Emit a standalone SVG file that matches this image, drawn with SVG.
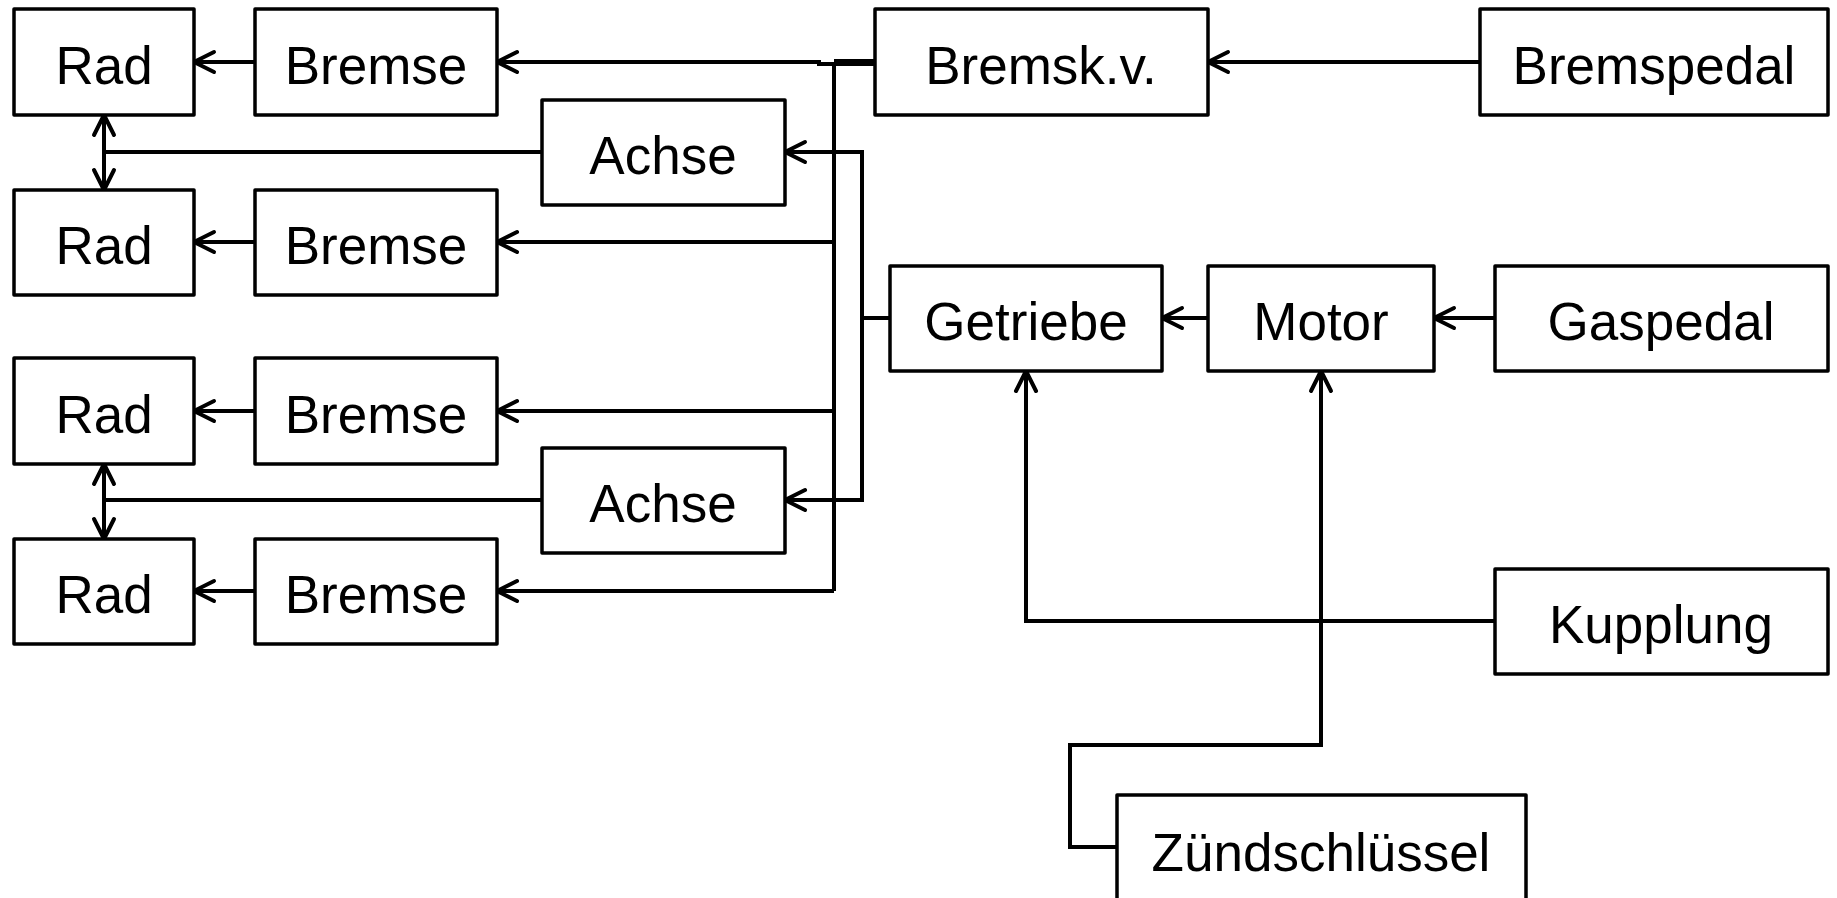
<svg xmlns="http://www.w3.org/2000/svg" width="1837" height="898" viewBox="0 0 1837 898">
  <style>
    .box rect { fill: #fff; stroke: #000; stroke-width: 3.5; stroke-linejoin: round; }
    .box text { font-family: "Liberation Sans", "Open Sans", sans-serif; font-size: 53px; fill: #000; text-anchor: middle; }
    .wire { fill: none; stroke: #000; stroke-width: 4; stroke-linejoin: miter; }
    .arr { marker-end: url(#ah); }
  </style>
  <defs>
    <!-- open chevron arrowhead -->
    <marker id="ah" viewBox="-23 -13 26 26" refX="0" refY="0" markerWidth="26" markerHeight="26" markerUnits="userSpaceOnUse" orient="auto">
      <path d="M-20,-10 L0,0 L-20,10" fill="none" stroke="#000" stroke-width="4" stroke-linecap="round" stroke-linejoin="round"/>
    </marker>
  </defs>
  <rect width="1837" height="898" fill="#fff"/>

  <!-- connectors -->
  <g id="connectors">
    <!-- brakes to wheels -->
    <path class="wire arr" d="M255,62 H194"/>
    <path class="wire arr" d="M255,242 H194"/>
    <path class="wire arr" d="M255,411 H194"/>
    <path class="wire arr" d="M255,591 H194"/>
    <!-- brake pedal to brake force distributor -->
    <path class="wire arr" d="M1480,62 H1208"/>
    <!-- distributor bus to the four brakes -->
    <path class="wire" d="M875,61 H834"/>
    <path class="wire" d="M875,64 H834 V591"/>
    <path class="wire arr" d="M834,64 H819 V62 H497"/>
    <path class="wire arr" d="M834,242 H497"/>
    <path class="wire arr" d="M834,411 H497"/>
    <path class="wire arr" d="M834,591 H497"/>
    <!-- gearbox to axles -->
    <path class="wire arr" d="M890,318 H862 V152 H785"/>
    <path class="wire arr" d="M862,318 V500 H785"/>
    <!-- axles to wheel pairs -->
    <path class="wire" d="M542,152 H104"/>
    <path class="wire arr" d="M104,152 V115"/>
    <path class="wire arr" d="M104,152 V190"/>
    <path class="wire" d="M542,500 H104"/>
    <path class="wire arr" d="M104,500 V464"/>
    <path class="wire arr" d="M104,500 V539"/>
    <!-- drivetrain -->
    <path class="wire arr" d="M1208,318 H1162"/>
    <path class="wire arr" d="M1495,318 H1434"/>
    <path class="wire arr" d="M1495,621 H1026 V371"/>
    <path class="wire arr" d="M1117,847 H1070 V745 H1321 V371"/>
  </g>

  <!-- nodes -->
  <g id="rad1" class="box"><rect x="14" y="9" width="180" height="106"/><text x="104" y="84">Rad</text></g>
  <g id="bremse1" class="box"><rect x="255" y="9" width="242" height="106"/><text x="376" y="84">Bremse</text></g>
  <g id="bremskv" class="box"><rect x="875" y="9" width="333" height="106"/><text x="1041" y="84">Bremsk.v.</text></g>
  <g id="bremspedal" class="box"><rect x="1480" y="9" width="348" height="106"/><text x="1654" y="84">Bremspedal</text></g>
  <g id="achse1" class="box"><rect x="542" y="100" width="243" height="105"/><text x="663" y="174">Achse</text></g>
  <g id="rad2" class="box"><rect x="14" y="190" width="180" height="105"/><text x="104" y="264">Rad</text></g>
  <g id="bremse2" class="box"><rect x="255" y="190" width="242" height="105"/><text x="376" y="264">Bremse</text></g>
  <g id="getriebe" class="box"><rect x="890" y="266" width="272" height="105"/><text x="1026" y="340">Getriebe</text></g>
  <g id="motor" class="box"><rect x="1208" y="266" width="226" height="105"/><text x="1321" y="340">Motor</text></g>
  <g id="gaspedal" class="box"><rect x="1495" y="266" width="333" height="105"/><text x="1661" y="340">Gaspedal</text></g>
  <g id="rad3" class="box"><rect x="14" y="358" width="180" height="106"/><text x="104" y="433">Rad</text></g>
  <g id="bremse3" class="box"><rect x="255" y="358" width="242" height="106"/><text x="376" y="433">Bremse</text></g>
  <g id="achse2" class="box"><rect x="542" y="448" width="243" height="105"/><text x="663" y="522">Achse</text></g>
  <g id="rad4" class="box"><rect x="14" y="539" width="180" height="105"/><text x="104" y="613">Rad</text></g>
  <g id="bremse4" class="box"><rect x="255" y="539" width="242" height="105"/><text x="376" y="613">Bremse</text></g>
  <g id="kupplung" class="box"><rect x="1495" y="569" width="333" height="105"/><text x="1661" y="643">Kupplung</text></g>
  <g id="zuendschluessel" class="box"><rect x="1117" y="795" width="409" height="125"/><text x="1321" y="871">Zündschlüssel</text></g>
</svg>
